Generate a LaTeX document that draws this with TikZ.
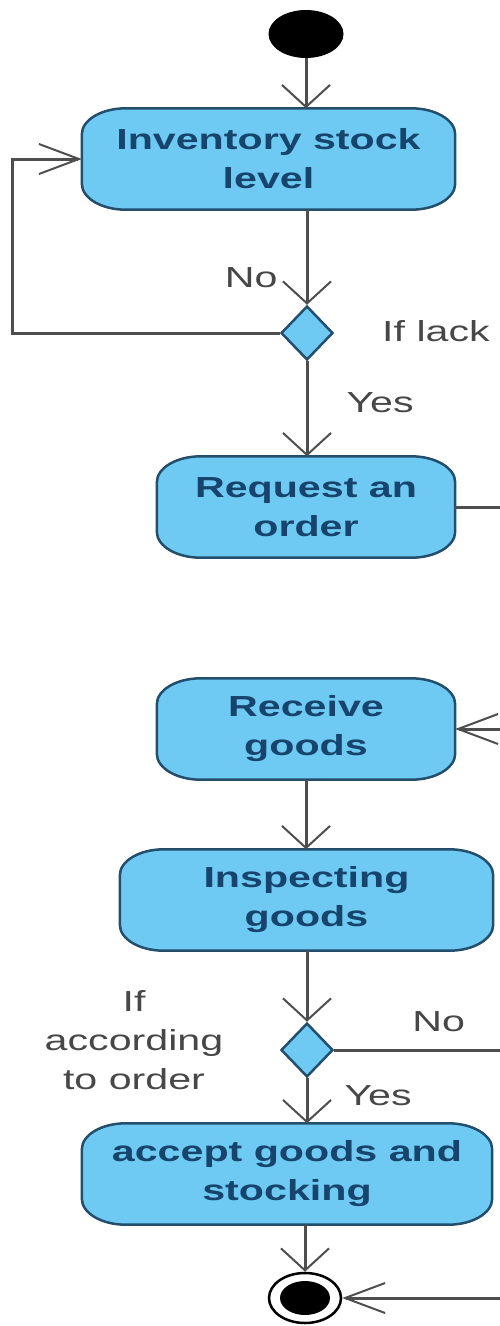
\documentclass[tikz,border=0pt]{standalone}
\usepackage{fontspec}
\usepackage{tikz}
\usetikzlibrary{shapes.geometric,arrows.meta,positioning,backgrounds}
\newfontfamily\flowfont{Liberation Sans}[FakeStretch=1.42]
\definecolor{actfill}{RGB}{110,202,243}
\definecolor{actdraw}{RGB}{35,78,108}
\definecolor{acttext}{RGB}{22,68,108}
\definecolor{flowgray}{RGB}{78,78,78}
\tikzset{action node/.style={rectangle, text=acttext, align=center, inner sep=0pt, minimum height=101pt,
    minimum width=#1, font=\flowfont\bfseries\fontsize{29}{39}\selectfont}}
\tikzset{action frame/.style={draw=actdraw, fill=actfill, line width=2.5pt}}
\tikzset{decision node/.style={diamond, draw=actdraw, fill=actfill, line width=2.5pt,
    inner sep=0pt, minimum width=52pt, minimum height=54pt}}
\tikzset{start node/.style={ellipse, fill=black, minimum width=75pt, minimum height=48pt, inner sep=0pt}}
\tikzset{final node/.style={ellipse, draw=black, line width=2.5pt, fill=white,
    minimum width=72pt, minimum height=50pt, inner sep=0pt,
    path picture={\fill [black] (path picture bounding box.center) ellipse [x radius=25pt, y radius=17pt];}}}
\tikzset{flow edge/.style={draw=flowgray, line width=3pt, -{Straight Barb[length=22pt, width=48pt, line width=2pt]}}}
\tikzset{side edge/.style={flow edge, -{Straight Barb[length=40pt, width=30pt, line width=2pt]}}}
\tikzset{plain edge/.style={draw=flowgray, line width=3pt}}
\tikzset{guard/.style={text=black!72, font=\flowfont\fontsize{29}{39}\selectfont, inner sep=2pt}}
\newcommand{\rx}{44pt}
\newcommand{\ry}{26pt}

\begin{document}
\begin{tikzpicture}
      [x=1pt, y=1pt]
      \useasboundingbox (0,0) rectangle (500,-1326);

      \node [start node]           (start)  at (306,   -34) {};
      \node [action node=373pt]    (inv)    at (268.5, -159) {Inventory stock\\level};
      \node [decision node]        (lack)   at (307,  -333) {};
      \node [action node=298pt]    (req)    at (306,  -507) {Request an\\order};
      \node [action node=298pt]    (recv)   at (306,  -729) {Receive\\goods};
      \node [action node=373pt]    (insp)   at (306.5, -900) {Inspecting\\goods};
      \node [decision node]        (match)  at (307, -1050) {};
      \node [action node=410pt]    (accept) at (287, -1174) {accept goods and\\stocking};
      \node [final node]           (final)  at (305, -1298) {};

      \node [guard, anchor=west]   (lacktxt)  at (380,  -331) {If lack};
      \node [guard, align=center]  (matchtxt) at (134, -1040) {If\\according\\to order};

      \coordinate (loop)     at ( 12,  -333);
      \coordinate (reqout)   at (500,  -507);
      \coordinate (recvin)   at (500,  -729);
      \coordinate (matchout) at (500, -1050);
      \coordinate (finalin)  at (500, -1298);

      \draw [flow edge]  (start)                 -- (start |- inv.north);
      \draw [flow edge]  (lack |- inv.south)     -- (lack.north) node [guard, pos=.72, left=26pt] {No};
      \draw [side edge]  (lack.west)             -- (loop) |- (inv.west);
      \draw [flow edge]  (lack.south)            -- (lack |- req.north) node [guard, pos=.44, right=36pt] {Yes};
      \draw [plain edge] (req.east)              -- (reqout);
      \draw [side edge]  (recvin)                -- (recv.east);
      \draw [flow edge]  (recv.south)            -- (recv |- insp.north);
      \draw [flow edge]  (insp.south -| match)   -- (match.north);
      \draw [plain edge] (match.east)            -- (matchout) node [guard, pos=.63, above=15pt] {No};
      \draw [flow edge]  (match.south)           -- (match |- accept.north) node [guard, pos=.39, right=34pt] {Yes};
      \draw [flow edge]  (accept.south -| final) -- (final.north);
      \draw [side edge]  (finalin)               -- (final.east);

      \begin{pgfonlayer}{background}
        \foreach \act in {inv, req, recv, insp, accept}
          \draw [action frame] ([xshift=\rx]\act.north west) -- ([xshift=-\rx]\act.north east)
            arc [start angle=90, end angle=0, x radius=\rx, y radius=\ry] -- ([yshift=\ry]\act.south east)
            arc [start angle=0, end angle=-90, x radius=\rx, y radius=\ry] -- ([xshift=\rx]\act.south west)
            arc [start angle=270, end angle=180, x radius=\rx, y radius=\ry] -- ([yshift=-\ry]\act.north west)
            arc [start angle=180, end angle=90, x radius=\rx, y radius=\ry] -- cycle;
      \end{pgfonlayer}
    \end{tikzpicture}
\end{document}
